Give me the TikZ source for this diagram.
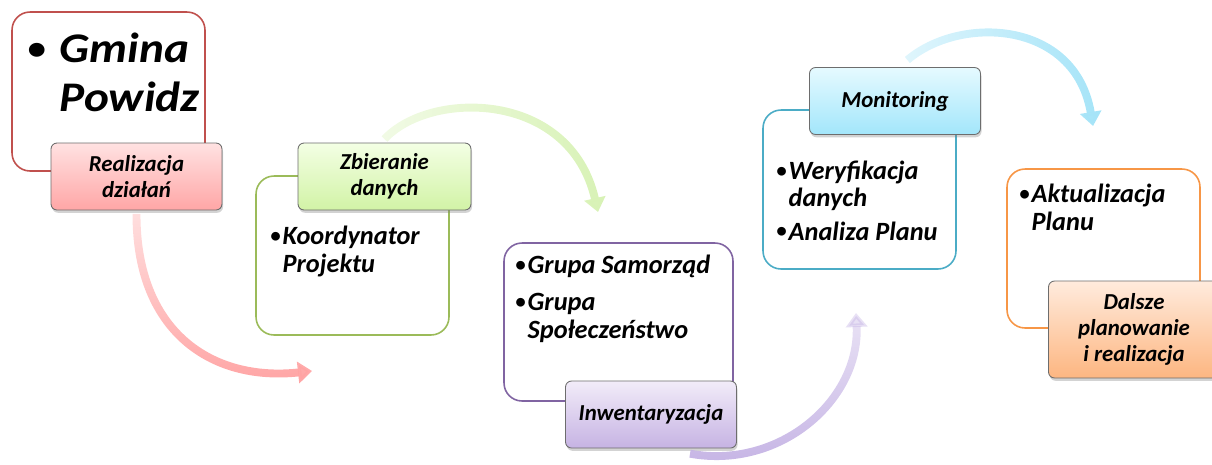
\documentclass[tikz,border=0pt]{standalone}
\usepackage{fontspec}
\setmainfont{Carlito}
\newfontfamily\widefont{Carlito}[FakeStretch=1.12]
\usepackage{xcolor}
\usepackage{tikz}
\usetikzlibrary{arrows.meta,shadows,fadings}

\definecolor{redline}{HTML}{C0504D}
\definecolor{greenline}{HTML}{9BBB59}
\definecolor{purpleline}{HTML}{8064A2}
\definecolor{blueline}{HTML}{4BACC6}
\definecolor{orangeline}{HTML}{F79646}
\definecolor{tagline}{HTML}{6D6D6D}
\definecolor{redtop}{HTML}{FFE2E2}
\definecolor{redbot}{HTML}{FFA6A6}
\definecolor{greentop}{HTML}{F3FFE4}
\definecolor{greenbot}{HTML}{D2F3A6}
\definecolor{purpletop}{HTML}{F2ECF9}
\definecolor{purplebot}{HTML}{C6B3E3}
\definecolor{bluetop}{HTML}{E6FAFF}
\definecolor{bluebot}{HTML}{A2E6FB}
\definecolor{orangetop}{HTML}{FFEBDD}
\definecolor{orangebot}{HTML}{FDB681}
\definecolor{redarrow}{HTML}{FFA4A4}
\definecolor{greenarrow}{HTML}{D8F2B6}
\definecolor{purplearrow}{HTML}{C4B2E4}
\definecolor{bluearrow}{HTML}{A6E4F8}

\newcommand{\tagfont}{\fontsize{13}{15}\selectfont\bfseries\itshape}
\newcommand{\itemfont}{\fontsize{15}{15.8}\selectfont\bfseries\itshape}
\newcommand{\bul}{\raisebox{0.08em}{\scalebox{0.78}{•}}\kern0.08em}
\newcommand{\hb}{\hphantom{\bul}}

\tikzfading[name=fadeup, top color=transparent!65, bottom color=transparent!0]
\tikzfading[name=fadeleft, left color=transparent!65, right color=transparent!0]

\tikzset{
  panel/.style={draw, line width=0.9pt, rounded corners=0.36cm, fill=white,
    minimum width=3.86cm, minimum height=3.18cm},
  tag/.style={draw=tagline, line width=0.5pt, rounded corners=0.12cm,
    minimum width=3.42cm, minimum height=1.34cm, align=center, font=\tagfont,
    drop shadow={shadow xshift=0.6pt, shadow yshift=-1.6pt, opacity=0.35}},
  items/.style={anchor=base west, inner sep=0pt, align=left, font=\itemfont},
  curvearrow/.style={line width=4.5pt, -{Triangle[length=8pt 0 0, width=12pt 0 0]}}
}

\begin{document}
\begin{tikzpicture}[x=0.02cm, y=-0.02cm]
    \useasboundingbox (0,0) rectangle (1212,464);

    % panels
    \node[panel, draw=redline] (redpanel) at (108.5,91.5) {};
    \node[panel, draw=greenline] (greenpanel) at (352.5,255.5) {};
    \node[panel, draw=purpleline, minimum width=4.58cm, minimum height=3.16cm] (purplepanel) at (618.5,322) {};
    \node[panel, draw=blueline] (bluepanel) at (859.5,189.5) {};
    \node[panel, draw=orangeline] (orangepanel) at (1103.5,248.5) {};

    % texts in panels (anchored at the last baseline)
    \node[items, font=\widefont\fontsize{24}{27.4}\selectfont\bfseries\itshape] (gmina) at (27,111) {\bul\ Gmina\\\hphantom{\bul\ }Powidz};
    \node[items] (koord) at (270,272) {\bul Koordynator\\\hb Projektu};
    \node[items] (grupy) at (515,338) {\bul Grupa Samorząd\\[5pt]\bul Grupa\\\hb Społeczeństwo};
    \node[items] (weryf) at (776,240) {\bul Weryfikacja\\\hb danych\\[3pt]\bul Analiza Planu};
    \node[items] (aktual) at (1019,230) {\bul Aktualizacja\\\hb Planu};

    % arrow ends
    \coordinate (redend) at (312,371);
    \coordinate (greenend) at (598,212);
    \coordinate (purpleend) at (856,313);
    \coordinate (blueend) at (1093,126);

    % tags
    \node[tag, top color=redtop, bottom color=redbot] (redtag) at (136.5,176.5) {Realizacja\\działań};
    \node[tag, top color=greentop, bottom color=greenbot, minimum width=3.46cm] (greentag) at (384.5,176.5) {Zbieranie\\danych};
    \node[tag, top color=purpletop, bottom color=purplebot] (purpletag) at (651,414.5) {Inwentaryzacja};
    \node[tag, top color=bluetop, bottom color=bluebot] (bluetag) at (895,101) {Monitoring};
    \node[tag, top color=orangetop, bottom color=orangebot, minimum height=1.94cm] (orangetag) at (1134,329.5) {Dalsze\\planowanie\\i realizacja};

    % arrows
    \draw[curvearrow, draw=redarrow, path fading=fadeup] ([yshift=-2pt]redtag.south) .. controls (136,330) and (210,382) .. (redend);
    \draw[curvearrow, draw=greenarrow, path fading=fadeleft] ([yshift=2pt]greentag.north) .. controls (430,90) and (570,90) .. (greenend);
    \draw[curvearrow, draw=purplearrow, path fading=fadeup] ([yshift=-3pt]purpletag.-41) .. controls (780,470) and (860,400) .. (purpleend);
    \draw[curvearrow, draw=bluearrow, path fading=fadeleft] ([yshift=4pt]bluetag.70) .. controls (960,15) and (1075,20) .. (blueend);
  \end{tikzpicture}
\end{document}
